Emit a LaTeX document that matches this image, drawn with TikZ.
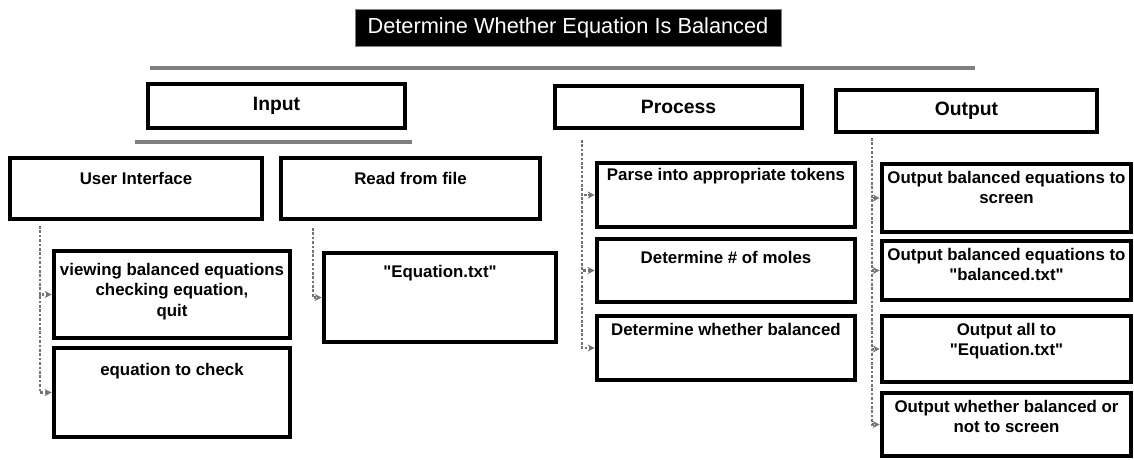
\documentclass[tikz,border=0pt]{standalone}
\usepackage{fontspec}
\setmainfont{Liberation Sans}[Ligatures=TeXOff]
\usetikzlibrary{positioning,fit,arrows.meta}

\tikzset{
  box/.style={draw=black, line width=2.6pt, inner sep=0pt, fill=white},
  htxt/.style={inner sep=1pt, font=\fontsize{11}{13}\selectfont\bfseries},
  txt/.style={inner sep=1pt, align=center, font=\fontsize{9.6}{11.6}\selectfont\bfseries},
  bar/.style={draw=black!50, line width=2pt},
  trunk/.style={draw=black!55, densely dotted, line width=1.5pt, -{Stealth[length=4pt,width=4pt]}},
}

\begin{document}
\begin{tikzpicture}[x=0.02cm, y=-0.02cm]
    \useasboundingbox (0,0) rectangle (1134,460);

    % Title
    \node[fill=black, draw=gray, thin, inner sep=0pt, fit={(355,9) (781,46)}] (title) {};
    \node[text=white, inner sep=1pt, font=\fontsize{12.4}{14}\selectfont] (title-t)
          at (title.center) {Determine Whether Equation Is Balanced};

    % Top level
    \node[box, fit={(148,84) (405,128)}] (input) {};
    \node[htxt] (input-t) at (input.center) {Input};
    \node[box, fit={(555,86) (802,128)}] (process) {};
    \node[htxt] (process-t) at (process.center) {Process};
    \node[box, fit={(836,90) (1097,132)}] (output) {};
    \node[htxt] (output-t) at (output.center) {Output};

    % Bar under title
    \coordinate (topbar-l) at (150,68);
    \coordinate (topbar-r) at (975,68);
    \draw[bar] (topbar-l) -- (topbar-r);

    % Bar under input
    \coordinate (inbar-l) at (135,142);
    \coordinate (inbar-r) at (412,142);
    \draw[bar] (inbar-l) -- (inbar-r);

    % Input branch
    \node[box, fit={(10,158) (262,219)}] (ui) {};
    \node[txt, below=8pt of ui.north] (ui-t) {User Interface};
    \node[box, fit={(281,158) (540,219)}] (rff) {};
    \node[txt, below=8pt of rff.north] (rff-t) {Read from file};

    \node[box, fit={(54,251) (290,338)}] (view) {};
    \node[txt, below=7pt of view.north] (view-t) {viewing balanced equations\\checking equation,\\quit};
    \node[box, fit={(54,348) (290,437)}] (chk) {};
    \node[txt, below=9pt of chk.north] (chk-t) {equation to check};

    \node[box, fit={(324,253) (556,342)}] (eqf) {};
    \node[txt, below=7pt of eqf.north] (eqf-t) {"Equation.txt"};

    % Process branch
    \node[box, fit={(597,163) (855,227)}] (parse) {};
    \node[txt, below=3pt of parse.north] (parse-t) {Parse into appropriate tokens};
    \node[box, fit={(597,239) (855,302)}] (moles) {};
    \node[txt, below=7pt of moles.north] (moles-t) {Determine \# of moles};
    \node[box, fit={(597,316) (855,380)}] (bal) {};
    \node[txt, below=4pt of bal.north] (bal-t) {Determine whether balanced};

    % Output branch
    \node[box, fit={(882,164) (1131,232)}] (out1) {};
    \node[txt, below=4pt of out1.north] (out1-t) {Output balanced equations to\\screen};
    \node[box, fit={(882,241) (1131,300)}] (out2) {};
    \node[txt, below=4pt of out2.north] (out2-t) {Output balanced equations to\\"balanced.txt"};
    \node[box, fit={(882,316) (1131,382)}] (out3) {};
    \node[txt, below=4pt of out3.north] (out3-t) {Output all to\\"Equation.txt"};
    \node[box, fit={(882,393) (1131,456)}] (out4) {};
    \node[txt, below=4pt of out4.north] (out4-t) {Output whether balanced or\\not to screen};

    % Trunks
    \coordinate (ui-trunk) at (40,226);
    \draw[trunk] (ui-trunk) |- (view.west);
    \draw[trunk] (ui-trunk) |- (chk.west);

    \coordinate (rff-trunk) at (313,228);
    \draw[trunk] (rff-trunk) |- (eqf.west);

    \coordinate (proc-trunk) at (582,140);
    \draw[trunk] (proc-trunk) |- (parse.west);
    \draw[trunk] (proc-trunk) |- (moles.west);
    \draw[trunk] (proc-trunk) |- (bal.west);

    \coordinate (out-trunk) at (872,138);
    \draw[trunk] (out-trunk) |- (out1.west);
    \draw[trunk] (out-trunk) |- (out2.west);
    \draw[trunk] (out-trunk) |- (out3.west);
    \draw[trunk] (out-trunk) |- (out4.west);
\end{tikzpicture}
\end{document}
